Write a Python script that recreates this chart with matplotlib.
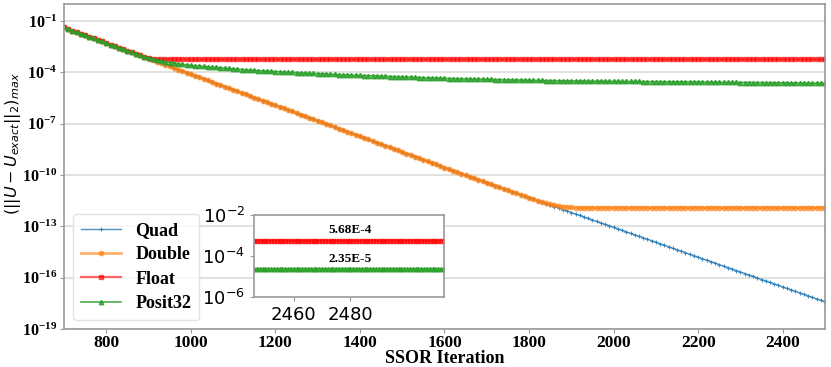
import numpy as np
import matplotlib
matplotlib.use("Agg")
import matplotlib.pyplot as plt

plt.rcParams['font.family'] = ['Liberation Serif', 'DejaVu Sans']
plt.rcParams['font.weight'] = 'normal'
plt.rcParams['mathtext.fontset'] = 'dejavusans'

# ---------------- data (log10 of error) ----------------
iterations = list(range(700, 2530, 10))

quad_log = [
    -1.37, -1.46, -1.55, -1.64, -1.73, -1.83, -1.92, -2.01, -2.10, -2.19,
    -2.28, -2.37, -2.46, -2.55, -2.64, -2.74, -2.83, -2.92, -3.01, -3.10,
    -3.19, -3.28, -3.37, -3.46, -3.55, -3.65, -3.74, -3.83, -3.92, -4.01,
    -4.10, -4.19, -4.28, -4.37, -4.46, -4.56, -4.65, -4.74, -4.83, -4.92,
    -5.01, -5.10, -5.19, -5.28, -5.37, -5.47, -5.56, -5.65, -5.74, -5.83,
    -5.92, -6.01, -6.10, -6.19, -6.28, -6.38, -6.47, -6.56, -6.65, -6.74,
    -6.83, -6.92, -7.01, -7.10, -7.19, -7.29, -7.38, -7.47, -7.56, -7.65,
    -7.74, -7.83, -7.92, -8.01, -8.10, -8.20, -8.29, -8.38, -8.47, -8.56,
    -8.65, -8.74, -8.83, -8.92, -9.01, -9.11, -9.20, -9.29, -9.38, -9.47,
    -9.56, -9.65, -9.74, -9.83, -9.92, -10.02, -10.10, -10.19, -10.28, -10.36,
    -10.45, -10.54, -10.62, -10.71, -10.80, -10.89, -10.97, -11.06, -11.15, -11.23,
    -11.32, -11.41, -11.49, -11.58, -11.67, -11.76, -11.84, -11.93, -12.02, -12.10,
    -12.19, -12.28, -12.36, -12.45, -12.54, -12.63, -12.71, -12.80, -12.89, -12.97,
    -13.06, -13.15, -13.23, -13.32, -13.41, -13.50, -13.58, -13.67, -13.76, -13.84,
    -13.93, -14.02, -14.10, -14.19, -14.28, -14.37, -14.45, -14.54, -14.63, -14.71,
    -14.80, -14.89, -14.97, -15.06, -15.15, -15.24, -15.32, -15.41, -15.50, -15.58,
    -15.67, -15.76, -15.84, -15.93, -16.02, -16.11, -16.19, -16.28, -16.37, -16.45,
    -16.54, -16.63, -16.71, -16.80, -16.89, -16.98, -17.06, -17.15, -17.24, -17.32,
    -17.41, -17.50, -17.59,
]

# Double follows Quad until iteration 1820, then levels off
double_split = 1830
double_tail = [
    -11.57, -11.64, -11.70, -11.75, -11.80, -11.84, -11.87, -11.89, -11.90, -11.91,
    -11.91, -11.91, -11.91, -11.91, -11.91, -11.91, -11.91, -11.91, -11.91, -11.91,
    -11.91, -11.91, -11.91, -11.91, -11.91, -11.91, -11.91, -11.91, -11.91, -11.91,
    -11.91, -11.91, -11.91, -11.91, -11.91, -11.91, -11.91, -11.91, -11.91, -11.91,
    -11.91, -11.91, -11.91, -11.91, -11.91, -11.91, -11.91, -11.91, -11.91, -11.91,
    -11.91, -11.91, -11.91, -11.91, -11.91, -11.91, -11.91, -11.91, -11.91, -11.91,
    -11.91, -11.91, -11.91, -11.91, -11.91, -11.91, -11.91, -11.91, -11.91, -11.91,
]

# Float and Posit32 follow Quad until iteration 870
early_split = 880
float_tail = [
    -3.00, -3.08, -3.14, -3.19, -3.22, -3.23, -3.24, -3.24, -3.24, -3.24,
] + [-3.24] * 155

posit_tail = [
    -3.00, -3.08, -3.15, -3.22, -3.28, -3.33, -3.38, -3.42, -3.46, -3.50,
    -3.53, -3.56, -3.59, -3.61, -3.63, -3.65, -3.67, -3.69, -3.71, -3.73,
    -3.75, -3.77, -3.79, -3.81, -3.83, -3.85, -3.87, -3.88, -3.90, -3.91,
    -3.93, -3.94, -3.95, -3.96, -3.98, -3.99, -4.00, -4.01, -4.03, -4.04,
    -4.05, -4.06, -4.07, -4.08, -4.10, -4.11, -4.12, -4.13, -4.14, -4.15,
    -4.16, -4.17, -4.18, -4.19, -4.19, -4.20, -4.21, -4.22, -4.23, -4.24,
    -4.25, -4.26, -4.26, -4.27, -4.28, -4.29, -4.30, -4.31, -4.32, -4.32,
    -4.33, -4.34, -4.35, -4.36, -4.36, -4.37, -4.37, -4.38, -4.38, -4.39,
    -4.39, -4.40, -4.40, -4.41, -4.42, -4.42, -4.43, -4.43, -4.44, -4.44,
    -4.45, -4.45, -4.46, -4.46, -4.47, -4.47, -4.48, -4.48, -4.48, -4.49,
    -4.49, -4.49, -4.49, -4.50, -4.50, -4.50, -4.51, -4.51, -4.51, -4.51,
    -4.52, -4.52, -4.52, -4.52, -4.53, -4.53, -4.53, -4.53, -4.53, -4.54,
    -4.54, -4.54, -4.54, -4.54, -4.55, -4.55, -4.55, -4.55, -4.55, -4.55,
    -4.56, -4.56, -4.56, -4.56, -4.57, -4.57, -4.57, -4.57, -4.58, -4.58,
    -4.58, -4.58, -4.59, -4.59, -4.59, -4.59, -4.60, -4.60, -4.60, -4.60,
    -4.61, -4.61, -4.61, -4.61, -4.62, -4.62, -4.62, -4.62, -4.62, -4.63,
    -4.63, -4.63, -4.63, -4.63, -4.63,
]

# final values shown in the inset (every iteration)
inset_iters = list(range(2440, 2521))
inset_float_value = 5.68e-4
inset_posit_value = 2.35e-5
inset_float_label = "5.68E-4"
inset_posit_label = "2.35E-5"

labels = ["Quad", "Double", "Float", "Posit32"]

# ---------------- assemble ----------------
it = np.array(iterations)
q = np.array(quad_log)
i_d = iterations.index(double_split)
i_e = iterations.index(early_split)
d = np.concatenate([q[:i_d], double_tail])[:len(it)]
f = np.concatenate([q[:i_e], float_tail])[:len(it)]
p = np.concatenate([q[:i_e], posit_tail])[:len(it)]

series = [10 ** q, 10 ** d, 10 ** f, 10 ** p]
styles = [
    dict(color='#1f77b4', alpha=0.8, lw=1.0, marker='+', ms=3.5, mew=0.8),
    dict(color='#ff7f0e', alpha=0.6, lw=2.0, marker='o', ms=3.2),
    dict(color='#ff0000', alpha=0.6, lw=1.6, marker='s', ms=3.2),
    dict(color='#2ca02c', alpha=0.85, lw=1.2, marker='^', ms=3.2),
]

W, H = 831, 367
fig = plt.figure(figsize=(W / 100, H / 100), dpi=100)
ax = fig.add_axes([64 / W, 38 / H, 761 / W, 325 / H])

for y, lab, st in zip(series, labels, styles):
    ax.plot(it, y, label=lab, **st)

ax.set_yscale('log')
ax.set_xlim(700, 2500)
ax.set_ylim(1e-19, 1)
ax.set_yticks([1e-1, 1e-4, 1e-7, 1e-10, 1e-13, 1e-16, 1e-19])
ax.yaxis.set_minor_locator(matplotlib.ticker.NullLocator())
ax.set_xticks([800, 1000, 1200, 1400, 1600, 1800, 2000, 2200, 2400])
ax.grid(axis='y', color='#dcdcdc', lw=1.2)
ax.set_axisbelow(True)
for s in ax.spines.values():
    s.set_color('#999999')
    s.set_linewidth(1.2)
ax.tick_params(colors='#999999', labelcolor='black', length=3)
ax.tick_params(axis='x', labelsize=12.5, pad=1.5)
ax.tick_params(axis='y', labelsize=11.5, pad=2)
for lbl in ax.get_xticklabels() + ax.get_yticklabels():
    lbl.set_fontweight('bold')

ax.set_xlabel('SSOR Iteration', fontsize=13, fontweight='bold')
ax.xaxis.set_label_coords(0.5, -0.064)
ax.set_ylabel(r'$(||U - U_{exact}||_2)_{max}$', fontsize=11.5, fontweight='normal')
ax.yaxis.set_label_coords(-0.0545, 0.57)

leg = ax.legend(loc='lower left', prop=dict(family='Liberation Serif', weight='bold', size=13),
                handlelength=2.2, labelspacing=0.4, borderpad=0.45, handletextpad=0.8)
leg.get_frame().set_edgecolor('#dddddd')

# ---------------- inset ----------------
axin = fig.add_axes([254 / W, 70 / H, 190 / W, 82 / H])
ins_x = np.array(inset_iters)
axin.plot(ins_x, np.full(len(ins_x), inset_float_value), **styles[2])
axin.plot(ins_x, np.full(len(ins_x), inset_posit_value), **styles[3])
axin.set_yscale('log')
axin.set_xlim(2446, 2513)
axin.set_ylim(1e-6, 1e-2)
axin.set_yticks([1e-6, 1e-4, 1e-2])
axin.yaxis.set_minor_locator(matplotlib.ticker.NullLocator())
axin.set_xticks([2460, 2480])
for s in axin.spines.values():
    s.set_color('#999999')
    s.set_linewidth(1.2)
axin.tick_params(colors='#999999', labelcolor='black', labelsize=13, length=3)
for lbl in axin.get_xticklabels() + axin.get_yticklabels():
    lbl.set_fontfamily('DejaVu Sans')
    lbl.set_fontweight('normal')
axin.text(2480, 1.9e-3, inset_float_label, ha='center', va='center', fontsize=9.5, fontweight='bold')
axin.text(2480, 7.5e-5, inset_posit_label, ha='center', va='center', fontsize=9.5, fontweight='bold')

fig.savefig('out.png', dpi=100)
